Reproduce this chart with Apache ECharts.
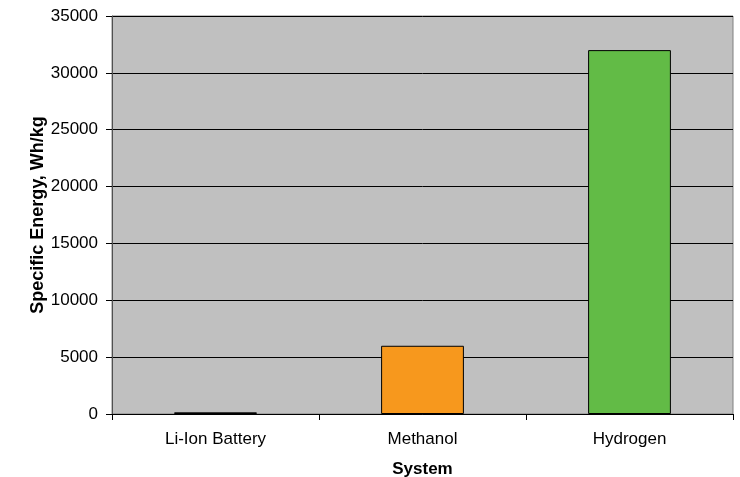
<!DOCTYPE html>
<html>
<head>
<meta charset="utf-8">
<script src="https://cdn.jsdelivr.net/npm/echarts@6/dist/echarts.min.js"></script>
<style>
  html, body { margin: 0; padding: 0; background: #ffffff; }
  #chart { width: 740px; height: 477px; }
</style>
</head>
<body>
<div id="chart"></div>
<script>
// Specific energy of three energy-storage systems
const categories = ['Li-Ion Battery', 'Methanol', 'Hydrogen'];
const specificEnergy = [150, 6000, 32000];
const barColors = ['#C0C0C0', '#F7981D', '#62BB46'];

const FONT = '"Liberation Sans", Arial, sans-serif';

const chart = echarts.init(document.getElementById('chart'), null, { renderer: 'canvas' });

chart.setOption({
  animation: false,
  backgroundColor: '#ffffff',
  grid: {
    left: 112, right: 7, top: 16, bottom: 63,
    outerBoundsMode: 'none',
    containLabel: false,
    show: true,
    backgroundColor: '#C0C0C0',
    borderColor: '#808080',
    borderWidth: 1
  },
  xAxis: {
    type: 'category',
    data: categories,
    name: 'System',
    nameLocation: 'middle',
    nameGap: 47,
    nameMoveOverlap: false,
    nameTextStyle: { fontFamily: FONT, fontSize: 17, fontWeight: 'bold', color: '#000' },
    axisLine: { lineStyle: { color: '#000', width: 1 } },
    axisTick: { show: true, length: 6, lineStyle: { color: '#000' } },
    axisLabel: { fontFamily: FONT, fontSize: 17, color: '#000', margin: 17 },
    splitLine: { show: false }
  },
  yAxis: {
    type: 'value',
    min: 0, max: 35000, interval: 5000,
    name: 'Specific Energy, Wh/kg',
    nameLocation: 'middle',
    nameGap: 65,
    nameMoveOverlap: false,
    nameTextStyle: { fontFamily: FONT, fontSize: 18, fontWeight: 'bold', color: '#000' },
    axisLine: { show: true, lineStyle: { color: '#505050', width: 1 } },
    axisTick: { show: true, length: 6, lineStyle: { color: '#000' } },
    axisLabel: {
      fontFamily: FONT, fontSize: 17, color: '#000', margin: 14,
      formatter: v => String(v)
    },
    splitLine: { show: true, lineStyle: { color: '#000', width: 1 } }
  },
  series: [{
    type: 'bar',
    data: specificEnergy.map((v, i) => ({ value: v, itemStyle: { color: barColors[i] } })),
    barWidth: '40%',
    itemStyle: { borderColor: '#000', borderWidth: 1 }
  }]
});
</script>
</body>
</html>
